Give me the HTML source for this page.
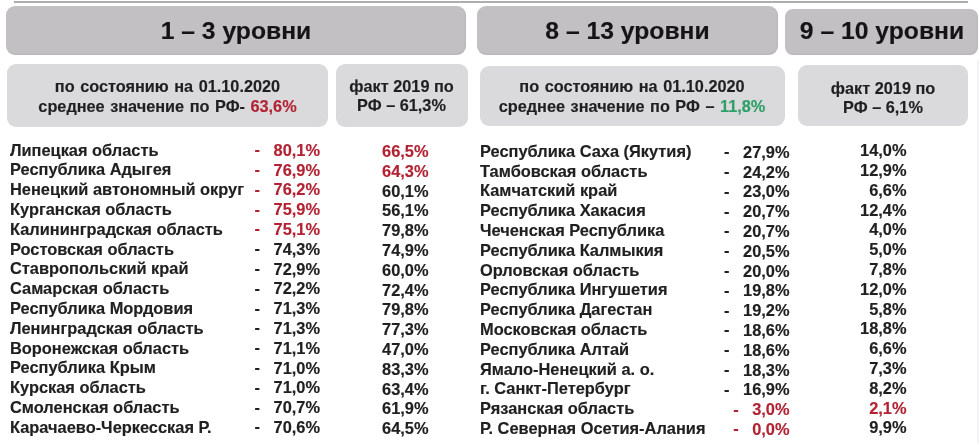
<!DOCTYPE html>
<html><head><meta charset="utf-8"><style>
html,body{margin:0;padding:0;background:#fff;width:979px;height:444px;overflow:hidden;position:relative}
body{font-family:"Liberation Sans",sans-serif;font-weight:bold;-webkit-text-stroke:0.15px currentColor;color:#202020}
.wrap{position:absolute;left:0;top:0;width:979px;height:444px;filter:blur(0.5px)}
.box{position:absolute;border-radius:9px}
.h{background:#c3c0c3;box-shadow:inset -1px -1.5px 1px rgba(0,0,0,0.05)}
.s{background:#dad9dc}
.t{position:absolute;font-size:16.4px;line-height:20px;white-space:pre}
.n{text-align:right}
.d{position:relative;top:-0.6px}
.g{display:inline-block;width:13.5px}
.r{color:#b22233}
.gr{color:#2ca068}
.title{position:absolute;font-size:24.7px;line-height:30px;text-align:center;white-space:pre;color:#141414}
.sub{position:absolute;font-size:16.3px;line-height:20px;text-align:center;white-space:pre;color:#1f1f1f}
.ws{word-spacing:1.0px}
.line{position:absolute;left:14px;top:1px;width:954px;height:2px;background:#adadad}
</style></head><body><div class="wrap">
<div class="line"></div>
<div style="position:absolute;left:977px;top:60px;width:2px;height:384px;background:#f4f4f6"></div>
<div class="box h" style="left:6px;top:6px;width:460px;height:49px"></div>
<div class="box h" style="left:477px;top:6px;width:301px;height:49px"></div>
<div class="box h" style="left:785px;top:8.5px;width:193px;height:46px;border-radius:8px"></div>
<div class="title" style="left:6px;width:460px;top:16.1px">1 – 3 уровни</div>
<div class="title" style="left:477px;width:301px;top:16.1px">8 – 13 уровни</div>
<div class="title" style="left:785px;width:194px;top:16.1px">9 – 10 уровни</div>
<div class="box s" style="left:7px;top:64px;width:321px;height:63.3px"></div>
<div class="box s" style="left:336px;top:64px;width:131.5px;height:63.3px"></div>
<div class="box s" style="left:480px;top:65.5px;width:304.5px;height:60.5px"></div>
<div class="box s" style="left:798px;top:64.5px;width:170px;height:61.3px"></div>
<div class="sub ws" style="left:7px;width:321px;top:76.15px">по состоянию на 01.10.2020</div>
<div class="sub ws" style="left:7px;width:321px;top:95.55px">среднее значение по РФ- <span class="r">63,6%</span></div>
<div class="sub" style="left:336px;width:131px;top:76.35px">факт 2019 по</div>
<div class="sub" style="left:336px;width:131px;top:95.25px">РФ – 61,3%</div>
<div class="sub ws" style="left:480px;width:304px;top:76.35px">по состоянию на 01.10.2020</div>
<div class="sub ws" style="left:480px;width:304px;top:96.05px">среднее значение по РФ – <span class="gr">11,8%</span></div>
<div class="sub" style="left:798px;width:170px;top:77.85px">факт 2019 по</div>
<div class="sub" style="left:798px;width:170px;top:96.95px">РФ – 6,1%</div>
<div class="t" style="left:10px;top:139.52px">Липецкая область</div>
<div class="t n r" style="right:659px;top:139.72px"><span class="d">-</span><span class="g"></span>80,1%</div>
<div class="t n r" style="right:550.5px;top:141.07px">66,5%</div>
<div class="t" style="left:10px;top:159.32px">Республика Адыгея</div>
<div class="t n r" style="right:659px;top:159.52px"><span class="d">-</span><span class="g"></span>76,9%</div>
<div class="t n r" style="right:550.5px;top:160.87px">64,3%</div>
<div class="t" style="left:10px;top:179.12px">Ненецкий автономный округ</div>
<div class="t n r" style="right:659px;top:179.32px"><span class="d">-</span><span class="g"></span>76,2%</div>
<div class="t n" style="right:550.5px;top:180.67px">60,1%</div>
<div class="t" style="left:10px;top:198.92px">Курганская область</div>
<div class="t n r" style="right:659px;top:199.12px"><span class="d">-</span><span class="g"></span>75,9%</div>
<div class="t n" style="right:550.5px;top:200.47px">56,1%</div>
<div class="t" style="left:10px;top:218.72px">Калининградская область</div>
<div class="t n r" style="right:659px;top:218.92px"><span class="d">-</span><span class="g"></span>75,1%</div>
<div class="t n" style="right:550.5px;top:220.27px">79,8%</div>
<div class="t" style="left:10px;top:238.52px">Ростовская область</div>
<div class="t n" style="right:659px;top:238.72px"><span class="d">-</span><span class="g"></span>74,3%</div>
<div class="t n" style="right:550.5px;top:240.07px">74,9%</div>
<div class="t" style="left:10px;top:258.32px">Ставропольский край</div>
<div class="t n" style="right:659px;top:258.52px"><span class="d">-</span><span class="g"></span>72,9%</div>
<div class="t n" style="right:550.5px;top:259.87px">60,0%</div>
<div class="t" style="left:10px;top:278.12px">Самарская область</div>
<div class="t n" style="right:659px;top:278.32px"><span class="d">-</span><span class="g"></span>72,2%</div>
<div class="t n" style="right:550.5px;top:279.67px">72,4%</div>
<div class="t" style="left:10px;top:297.92px">Республика Мордовия</div>
<div class="t n" style="right:659px;top:298.12px"><span class="d">-</span><span class="g"></span>71,3%</div>
<div class="t n" style="right:550.5px;top:299.47px">79,8%</div>
<div class="t" style="left:10px;top:317.72px">Ленинградская область</div>
<div class="t n" style="right:659px;top:317.92px"><span class="d">-</span><span class="g"></span>71,3%</div>
<div class="t n" style="right:550.5px;top:319.27px">77,3%</div>
<div class="t" style="left:10px;top:337.52px">Воронежская область</div>
<div class="t n" style="right:659px;top:337.72px"><span class="d">-</span><span class="g"></span>71,1%</div>
<div class="t n" style="right:550.5px;top:339.07px">47,0%</div>
<div class="t" style="left:10px;top:357.32px">Республика Крым</div>
<div class="t n" style="right:659px;top:357.52px"><span class="d">-</span><span class="g"></span>71,0%</div>
<div class="t n" style="right:550.5px;top:358.87px">83,3%</div>
<div class="t" style="left:10px;top:377.12px">Курская область</div>
<div class="t n" style="right:659px;top:377.32px"><span class="d">-</span><span class="g"></span>71,0%</div>
<div class="t n" style="right:550.5px;top:378.67px">63,4%</div>
<div class="t" style="left:10px;top:396.92px">Смоленская область</div>
<div class="t n" style="right:659px;top:397.12px"><span class="d">-</span><span class="g"></span>70,7%</div>
<div class="t n" style="right:550.5px;top:398.47px">61,9%</div>
<div class="t" style="left:10px;top:416.72px">Карачаево-Черкесская Р.</div>
<div class="t n" style="right:659px;top:416.92px"><span class="d">-</span><span class="g"></span>70,6%</div>
<div class="t n" style="right:550.5px;top:418.27px">64,5%</div>
<div class="t" style="left:480px;top:140.87px">Республика Саха (Якутия)</div>
<div class="t n" style="right:189.5px;top:141.77px"><span class="d">-</span><span class="g"></span>27,9%</div>
<div class="t n" style="right:72.5px;top:140.22px">14,0%</div>
<div class="t" style="left:480px;top:160.67px">Тамбовская область</div>
<div class="t n" style="right:189.5px;top:161.57px"><span class="d">-</span><span class="g"></span>24,2%</div>
<div class="t n" style="right:72.5px;top:160.02px">12,9%</div>
<div class="t" style="left:480px;top:180.47px">Камчатский край</div>
<div class="t n" style="right:189.5px;top:181.37px"><span class="d">-</span><span class="g"></span>23,0%</div>
<div class="t n" style="right:72.5px;top:179.82px">6,6%</div>
<div class="t" style="left:480px;top:200.27px">Республика Хакасия</div>
<div class="t n" style="right:189.5px;top:201.17px"><span class="d">-</span><span class="g"></span>20,7%</div>
<div class="t n" style="right:72.5px;top:199.62px">12,4%</div>
<div class="t" style="left:480px;top:220.07px">Чеченская Республика</div>
<div class="t n" style="right:189.5px;top:220.97px"><span class="d">-</span><span class="g"></span>20,7%</div>
<div class="t n" style="right:72.5px;top:219.42px">4,0%</div>
<div class="t" style="left:480px;top:239.87px">Республика Калмыкия</div>
<div class="t n" style="right:189.5px;top:240.77px"><span class="d">-</span><span class="g"></span>20,5%</div>
<div class="t n" style="right:72.5px;top:239.22px">5,0%</div>
<div class="t" style="left:480px;top:259.67px">Орловская область</div>
<div class="t n" style="right:189.5px;top:260.57px"><span class="d">-</span><span class="g"></span>20,0%</div>
<div class="t n" style="right:72.5px;top:259.02px">7,8%</div>
<div class="t" style="left:480px;top:279.47px">Республика Ингушетия</div>
<div class="t n" style="right:189.5px;top:280.37px"><span class="d">-</span><span class="g"></span>19,8%</div>
<div class="t n" style="right:72.5px;top:278.82px">12,0%</div>
<div class="t" style="left:480px;top:299.27px">Республика Дагестан</div>
<div class="t n" style="right:189.5px;top:300.17px"><span class="d">-</span><span class="g"></span>19,2%</div>
<div class="t n" style="right:72.5px;top:298.62px">5,8%</div>
<div class="t" style="left:480px;top:319.07px">Московская область</div>
<div class="t n" style="right:189.5px;top:319.97px"><span class="d">-</span><span class="g"></span>18,6%</div>
<div class="t n" style="right:72.5px;top:318.42px">18,8%</div>
<div class="t" style="left:480px;top:338.87px">Республика Алтай</div>
<div class="t n" style="right:189.5px;top:339.77px"><span class="d">-</span><span class="g"></span>18,6%</div>
<div class="t n" style="right:72.5px;top:338.22px">6,6%</div>
<div class="t" style="left:480px;top:358.67px">Ямало-Ненецкий а. о.</div>
<div class="t n" style="right:189.5px;top:359.57px"><span class="d">-</span><span class="g"></span>18,3%</div>
<div class="t n" style="right:72.5px;top:358.02px">7,3%</div>
<div class="t" style="left:480px;top:378.47px">г. Санкт-Петербург</div>
<div class="t n" style="right:189.5px;top:379.37px"><span class="d">-</span><span class="g"></span>16,9%</div>
<div class="t n" style="right:72.5px;top:377.82px">8,2%</div>
<div class="t" style="left:480px;top:398.27px">Рязанская область</div>
<div class="t n r" style="right:189.5px;top:399.17px"><span class="d">-</span><span class="g"></span>3,0%</div>
<div class="t n r" style="right:72.5px;top:397.62px">2,1%</div>
<div class="t" style="left:480px;top:418.07px">Р. Северная Осетия-Алания</div>
<div class="t n r" style="right:189.5px;top:418.97px"><span class="d">-</span><span class="g"></span>0,0%</div>
<div class="t n" style="right:72.5px;top:417.42px">9,9%</div>
</div></body></html>
